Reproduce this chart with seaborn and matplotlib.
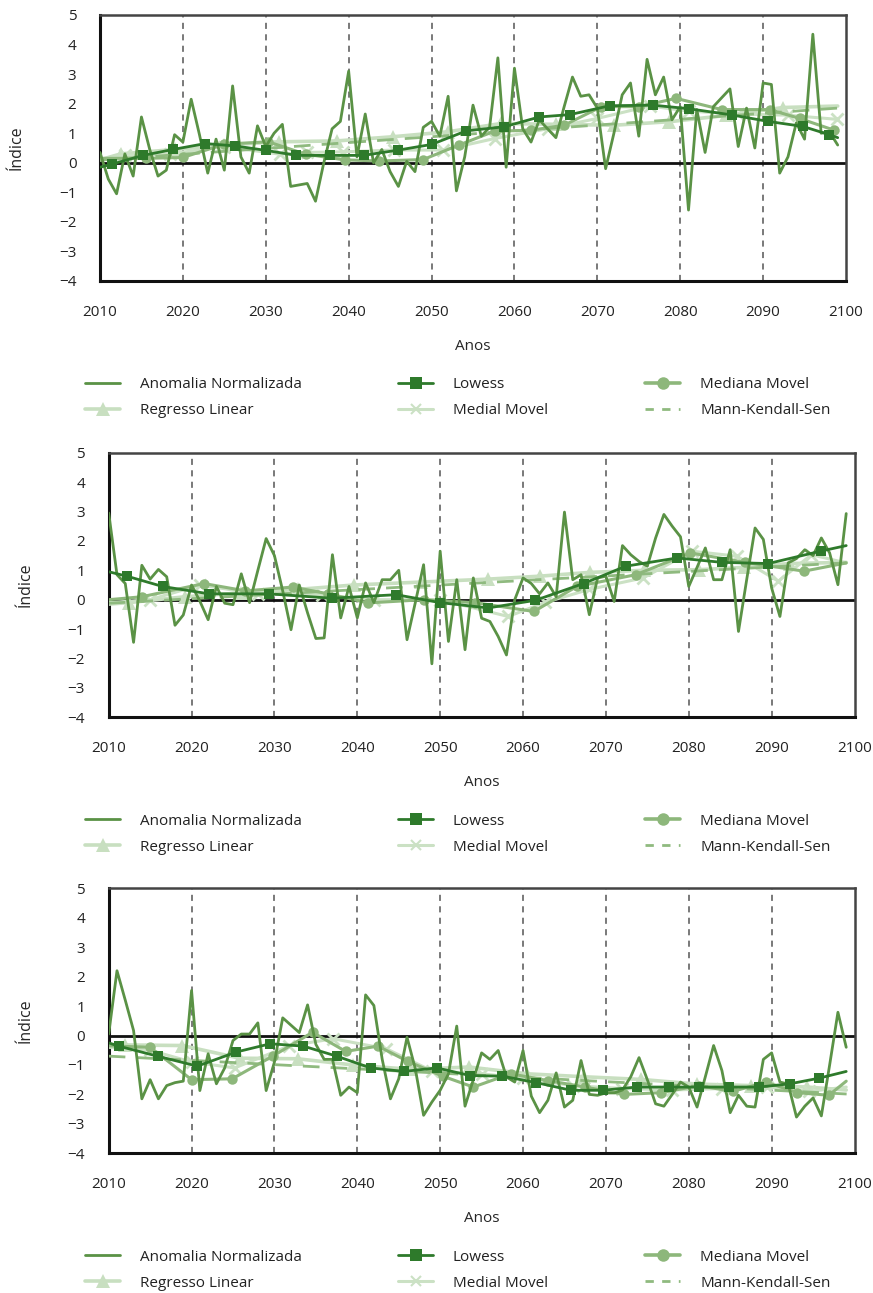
import matplotlib
matplotlib.use("Agg")
import matplotlib.pyplot as plt
from matplotlib.lines import Line2D
import seaborn as sns

# ─────────────────────────────────────────────────────────────────────────────
#  Data
# ─────────────────────────────────────────────────────────────────────────────
YEARS = list(range(2010, 2100))

# Panel 1
anom1 = [0.35, -0.55, -1.05, 0.3, -0.45, 1.55, 0.45, -0.45, -0.25, 0.95,
         0.7, 2.15, 0.95, -0.35, 0.8, -0.25, 2.6, 0.2, -0.35, 1.25,
         0.55, 1.0, 1.3, -0.8, -0.75, -0.7, -1.3, 0.0, 1.15, 1.4,
         3.1, 0.2, 1.65, 0.0, 0.45, -0.3, -0.8, 0.05, -0.3, 1.2,
         1.4, 0.9, 2.25, -0.95, 0.2, 1.95, 0.9, 1.2, 3.55, -0.15,
         3.2, 1.15, 0.7, 1.45, 1.15, 0.85, 1.9, 2.9, 2.25, 2.3,
         1.85, -0.2, 1.0, 2.3, 2.7, 0.9, 3.5, 2.3, 2.9, 1.45,
         1.9, -1.6, 1.8, 0.35, 1.9, 2.2, 2.5, 0.55, 1.85, 0.5,
         2.7, 2.65, -0.35, 0.2, 1.35, 0.8, 4.35, 1.0, 1.05, 0.6]
low1_x = [2010, 2011.4, 2015.2, 2018.8, 2022.7, 2026.3, 2030, 2033.7, 2037.8, 2041.8, 2046, 2050,
          2054.2, 2058.8, 2063, 2066.7, 2071.5, 2076.7, 2081, 2086.2, 2090.6, 2094.8, 2098, 2099]
low1_y = [-0.15, -0.05, 0.25, 0.45, 0.65, 0.57, 0.42, 0.25, 0.25, 0.25, 0.43, 0.62,
          1.08, 1.22, 1.55, 1.63, 1.93, 1.95, 1.83, 1.62, 1.4, 1.23, 0.95, 0.85]
med1_x = [2010, 2015.5, 2020, 2025, 2030.3, 2034.8, 2039.5, 2043.7, 2049, 2053.3, 2057.6, 2062,
          2066, 2070.5, 2075, 2079.5, 2085, 2090.8, 2094.4, 2098.6, 2099]
med1_y = [0.15, 0.15, 0.18, 0.63, 0.71, 0.29, 0.1, 0.06, 0.11, 0.6, 1.07, 1.1,
          1.27, 1.9, 1.9, 2.18, 1.8, 1.8, 1.5, 1.1, 1.05]
reg1_x = [2010, 2012.5, 2019, 2025, 2031.6, 2038.6, 2045.3, 2052, 2058.4, 2065, 2072, 2078.7,
          2085.5, 2092.4, 2099]
reg1_y = [0.1, 0.3, 0.45, 0.6, 0.71, 0.74, 0.88, 1.05, 1.33, 1.3, 1.27, 1.39, 1.6, 1.87, 1.92]
mm1_x = [2010, 2013, 2018.5, 2025, 2031.7, 2035, 2039.3, 2045.5, 2051.4, 2057.6, 2064, 2070,
         2076.3, 2081, 2087, 2093, 2098.9, 2099]
mm1_y = [0.1, 0.25, 0.3, 0.55, 0.29, 0.35, 0.37, 0.43, 0.43, 0.82, 1.15, 1.5,
         1.92, 1.75, 1.65, 1.61, 1.47, 1.47]
mks1_x = [2010, 2100]
mks1_y = [0.09, 1.87]

# Panel 2
anom2 = [2.95, 0.85, 0.55, -1.45, 1.17, 0.7, 1.03, 0.78, -0.87, -0.52,
         0.5, -0.05, -0.68, 0.45, -0.12, -0.17, 0.88, -0.1, 1.0, 2.08,
         1.5, 0.3, -1.02, 0.5, -0.45, -1.32, -1.3, 1.53, -0.62, 0.45,
         -0.62, 0.57, -0.1, 0.68, 0.68, 1.0, -1.36, -0.1, 1.19, -2.18,
         1.65, -1.42, 0.68, -1.7, 0.74, -0.63, -0.74, -1.25, -1.88, 0.0,
         0.74, 0.55, 0.2, 0.57, 0.1, 2.98, 0.68, 0.85, -0.51, 0.74,
         0.8, -0.06, 1.84, 1.53, 1.3, 1.14, 2.1, 2.9, 2.5, 2.14,
         0.45, 1.1, 1.76, 0.68, 0.68, 1.7, -1.08, 0.7, 2.44, 2.05,
         0.4, -0.57, 1.25, 1.4, 1.7, 1.5, 2.1, 1.59, 0.51, 2.93]
low2_x = [2010, 2012.2, 2016.5, 2022.1, 2029.3, 2036.9, 2044.7, 2050, 2055.8, 2061.5, 2067.3,
          2072.4, 2078.6, 2084, 2089.6, 2095.9, 2099]
low2_y = [0.95, 0.8, 0.45, 0.2, 0.2, 0.05, 0.17, -0.1, -0.28, -0.02, 0.55,
          1.14, 1.42, 1.27, 1.23, 1.65, 1.84]
med2_x = [2010, 2014, 2021.5, 2026.5, 2032.2, 2036.5, 2041.3, 2048, 2054.2, 2061.3, 2066.5,
          2073.6, 2080.2, 2086.8, 2093.9, 2099]
med2_y = [0.0, 0.1, 0.55, 0.3, 0.43, 0.2, -0.11, 0.0, -0.1, -0.4, 0.45,
          0.85, 1.59, 1.27, 0.97, 1.25]
reg2_x = [2010, 2012.4, 2019.2, 2026, 2032.8, 2039.6, 2047.7, 2055.8, 2062, 2068.1, 2074.6,
          2081.2, 2086.7, 2092.2, 2099]
reg2_y = [-0.15, -0.1, 0.1, 0.23, 0.35, 0.5, 0.6, 0.7, 0.8, 0.93, 1.0, 1.02, 1.1, 1.23, 1.27]
mm2_x = [2010, 2015, 2021, 2028, 2035.7, 2042, 2050, 2058.2, 2062.7, 2068, 2074.5, 2080.4,
         2085.8, 2090.8, 2094.8, 2099]
mm2_y = [-0.1, 0.0, 0.5, 0.2, 0.17, 0.0, 0.0, -0.57, -0.09, 0.35, 0.74, 1.65,
         1.48, 0.63, 1.53, 1.25]
mks2_x = [2010, 2100]
mks2_y = [-0.12, 1.27]

# Panel 3
anom3 = [0.05, 2.2, 1.2, 0.17, -2.15, -1.5, -2.15, -1.7, -1.6, -1.55,
         1.53, -1.87, -0.62, -1.64, -1.1, -0.17, 0.05, 0.05, 0.43, -1.87,
         -0.9, 0.6, 0.35, 0.1, 1.04, -0.3, -0.81, -0.81, -2.03, -1.75,
         -1.94, 1.38, 1.02, -0.8, -2.15, -1.47, -0.06, -1.13, -2.71, -2.26,
         -1.86, -1.3, 0.32, -2.4, -1.5, -0.59, -0.81, -0.51, -1.41, -1.58,
         -0.51, -2.06, -2.62, -2.2, -1.27, -2.43, -2.2, -0.85, -2.0, -2.03,
         -1.95, -1.95, -1.85, -1.4, -0.75, -1.5, -2.32, -2.4, -2.0, -1.58,
         -1.75, -2.43, -1.4, -0.34, -1.19, -2.62, -2.03, -2.4, -2.43, -0.81,
         -0.59, -1.58, -1.65, -2.77, -2.4, -2.12, -2.73, -1.0, 0.79, -0.4]
low3_x = [2010, 2011.2, 2016, 2020.7, 2025.4, 2029.5, 2033.5, 2037.5, 2041.6, 2045.6, 2049.6,
          2053.6, 2057.5, 2061.6, 2065.8, 2069.6, 2073.7, 2077.6, 2081.2, 2084.8, 2088.5,
          2092.2, 2095.7, 2099]
low3_y = [-0.25, -0.36, -0.71, -1.04, -0.56, -0.28, -0.36, -0.7, -1.1, -1.22, -1.1,
          -1.36, -1.38, -1.6, -1.86, -1.86, -1.75, -1.75, -1.75, -1.75, -1.75,
          -1.64, -1.45, -1.22]
med3_x = [2010, 2015, 2020, 2024.9, 2029.8, 2034.6, 2038.6, 2042.5, 2046.1, 2050.3, 2054,
          2058.5, 2063, 2067.5, 2072.2, 2076.7, 2081.2, 2085.3, 2089.3, 2093.1, 2096.9, 2099]
med3_y = [-0.35, -0.4, -1.5, -1.47, -0.7, 0.11, -0.54, -0.36, -0.88, -1.38, -1.75,
          -1.3, -1.53, -1.75, -2.0, -1.94, -1.7, -1.9, -1.58, -1.94, -2.03, -1.55]
reg3_x = [2010, 2012, 2018.9, 2025.8, 2032.8, 2039.5, 2046.5, 2053.5, 2060.5, 2067.3, 2074.2,
          2081, 2087.5, 2094.3, 2099]
reg3_y = [-0.3, -0.32, -0.34, -0.77, -0.79, -1.0, -1.15, -1.07, -1.3, -1.4, -1.49,
          -1.65, -1.7, -1.75, -1.85]
mm3_x = [2010, 2015, 2020, 2025.2, 2031.8, 2037.1, 2043.5, 2049, 2055, 2060, 2066, 2072,
         2078, 2084, 2089.5, 2094.5, 2099]
mm3_y = [-0.4, -0.5, -0.9, -1.1, -0.35, -0.11, -0.45, -1.2, -1.3, -1.45, -1.7, -1.8,
         -1.85, -1.8, -1.75, -1.9, -1.75]
mks3_x = [2010, 2100]
mks3_y = [-0.7, -2.0]

DECADES = list(range(2010, 2101, 10))
Y_TICKS = list(range(-4, 6))
LABELS = ["Anomalia Normalizada", "Regresso Linear", "Lowess",
          "Medial Movel", "Mediana Movel", "Mann-Kendall-Sen"]

# ─────────────────────────────────────────────────────────────────────────────
#  Style
# ─────────────────────────────────────────────────────────────────────────────
C_ANOM = "#5a9245"
C_LOW  = "#2e7a2b"
C_MED  = "#8db77b"
C_REG  = "#c8dfc0"
C_MM   = "#cbe1c4"
C_MKS  = "#8fba7f"

sns.set_style("white")
plt.rcParams["font.family"] = ["Open Sans", "DejaVu Sans"]
plt.rcParams["text.color"] = "#222222"

W, H = 873, 1293
fig = plt.figure(figsize=(W / 100, H / 100), dpi=100)

# axes boxes in pixels: left, top, right, bottom
BOXES = [(100, 15, 846, 281), (108.7, 452.7, 854.5, 717.3), (108.7, 888.3, 854.5, 1153.3)]
PANELS = [
    (anom1, low1_x, low1_y, med1_x, med1_y, reg1_x, reg1_y, mm1_x, mm1_y, mks1_x, mks1_y),
    (anom2, low2_x, low2_y, med2_x, med2_y, reg2_x, reg2_y, mm2_x, mm2_y, mks2_x, mks2_y),
    (anom3, low3_x, low3_y, med3_x, med3_y, reg3_x, reg3_y, mm3_x, mm3_y, mks3_x, mks3_y),
]
inner = slice(1, -1)

for (l, t, r, b), data in zip(BOXES, PANELS):
    anom, lx, ly, mx, my, rx, ry, vx, vy, kx, ky = data
    ax = fig.add_axes([l / W, 1 - b / H, (r - l) / W, (b - t) / H])

    for d in DECADES[1:-1]:
        ax.axvline(d, color="#555555", lw=1.1, ls=(0, (4, 3.5)), zorder=1)
    ax.axhline(0, color="#111111", lw=2, zorder=2)

    # ── Series ──
    sns.lineplot(x=rx, y=ry, ax=ax, color=C_REG, lw=2.6, marker="^", markersize=10,
                 markeredgewidth=0, markevery=inner, zorder=3)
    sns.lineplot(x=vx, y=vy, ax=ax, color=C_MM, lw=2.2, marker="x", markersize=8,
                 markeredgecolor=C_MM, markeredgewidth=2, markevery=inner, zorder=3)
    sns.lineplot(x=kx, y=ky, ax=ax, color=C_MKS, lw=2, ls=(0, (6, 4)), zorder=4)
    sns.lineplot(x=mx, y=my, ax=ax, color=C_MED, lw=2.2, marker="o", markersize=7.5,
                 markeredgewidth=0, markevery=inner, zorder=4)
    sns.lineplot(x=YEARS, y=anom, ax=ax, color=C_ANOM, lw=2, zorder=5)
    sns.lineplot(x=lx, y=ly, ax=ax, color=C_LOW, lw=2, marker="s", markersize=7,
                 markeredgewidth=0, markevery=inner, zorder=6)

    ax.set_xlim(2010, 2100)
    ax.set_ylim(-4, 5)
    ax.set_xticks(DECADES)
    ax.set_yticks(Y_TICKS)
    ax.tick_params(axis="both", labelsize=11, colors="#222222", length=7, width=1.8,
                   direction="out")
    ax.tick_params(axis="y", pad=10)
    ax.tick_params(axis="x", pad=10)
    ax.grid(False)
    for side in ["left", "bottom"]:
        ax.spines[side].set_color("#111111")
        ax.spines[side].set_linewidth(2.2)
    for side in ["top", "right"]:
        ax.spines[side].set_color("#444444")
        ax.spines[side].set_linewidth(1.8)

    ax.set_xlabel("Anos", fontsize=11, labelpad=14)
    ax.set_ylabel("Índice", fontsize=11.5)
    ax.yaxis.set_label_coords(-75 / (r - l), 0.5)

    # ── Legend (three columns of two rows) ──
    handles = [
        Line2D([], [], color=C_ANOM, lw=2),
        Line2D([], [], color=C_REG, lw=2.6, marker="^", markersize=10, markeredgewidth=0),
        Line2D([], [], color=C_LOW, lw=2, marker="s", markersize=9, markeredgewidth=0),
        Line2D([], [], color=C_MM, lw=2.2, marker="x", markersize=7, markeredgewidth=1.5),
        Line2D([], [], color=C_MED, lw=2.6, marker="o", markersize=9, markeredgewidth=0),
        Line2D([], [], color=C_MKS, lw=2, ls=(0, (3, 3))),
    ]
    for col, hx in enumerate([85, 398, 645]):
        fig.legend(handles[2 * col:2 * col + 2], LABELS[2 * col:2 * col + 2],
                   loc="center left", bbox_to_anchor=(hx / W, 1 - (b + 117) / H),
                   frameon=False, borderpad=0, borderaxespad=0, fontsize=11,
                   handlelength=2.3, handletextpad=1.3, labelspacing=0.72)

fig.savefig("out.png", dpi=100)
